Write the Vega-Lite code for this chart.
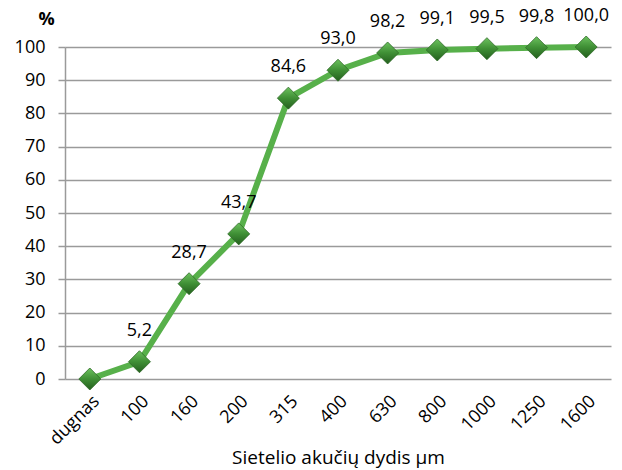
{
  "$schema": "https://vega.github.io/schema/vega-lite/v6.json",
  "width": 546,
  "height": 332,
  "autosize": {"type": "none"},
  "padding": {"left": 65, "top": 47, "right": 11, "bottom": 91},
  "background": "white",
  "config": {"view": {"stroke": null}, "font": "Open Sans"},
  "data": {
    "values": [
      {"size": "dugnas", "value": 0, "label": ""},
      {"size": "100", "value": 5.2, "label": "5,2"},
      {"size": "160", "value": 28.7, "label": "28,7"},
      {"size": "200", "value": 43.7, "label": "43,7"},
      {"size": "315", "value": 84.6, "label": "84,6"},
      {"size": "400", "value": 93.0, "label": "93,0"},
      {"size": "630", "value": 98.2, "label": "98,2"},
      {"size": "800", "value": 99.1, "label": "99,1"},
      {"size": "1000", "value": 99.5, "label": "99,5"},
      {"size": "1250", "value": 99.8, "label": "99,8"},
      {"size": "1600", "value": 100.0, "label": "100,0"}
    ]
  },
  "encoding": {
    "x": {
      "field": "size",
      "type": "ordinal",
      "sort": null,
      "scale": {"type": "point", "padding": 0.5},
      "axis": {
        "title": "Sietelio akučių dydis µm",
        "titleFontSize": 19,
        "titleFontWeight": "normal",
        "titleColor": "#000000",
        "titleY": 78,
        "titleBaseline": "middle",
        "domain": false,
        "ticks": false,
        "grid": false,
        "labelAngle": -45,
        "labelFontSize": 18,
        "labelColor": "#000000",
        "labelPadding": 13
      }
    },
    "y": {
      "field": "value",
      "type": "quantitative",
      "scale": {"domain": [0, 100], "nice": false},
      "axis": {
        "values": [0, 10, 20, 30, 40, 50, 60, 70, 80, 90, 100],
        "grid": true,
        "gridColor": "#9a9a9a",
        "gridWidth": 1.5,
        "domain": true,
        "domainColor": "#9a9a9a",
        "domainWidth": 1.5,
        "tickColor": "#9a9a9a",
        "tickWidth": 1.5,
        "tickSize": 7,
        "labelFontSize": 18,
        "labelColor": "#000000",
        "labelPadding": 13,
        "title": "%",
        "titleAngle": 0,
        "titleFontSize": 18,
        "titleFontWeight": "bold",
        "titleColor": "#000000",
        "titleX": -19,
        "titleY": -28,
        "titleAlign": "center",
        "titleBaseline": "middle"
      }
    }
  },
  "layer": [
    {
      "mark": {"type": "line", "color": "#57b04a", "strokeWidth": 6}
    },
    {
      "mark": {
        "type": "point",
        "shape": "diamond",
        "size": 484,
        "filled": true,
        "opacity": 1,
        "color": {
          "gradient": "linear",
          "x1": 0, "y1": 0, "x2": 0, "y2": 1,
          "stops": [
            {"offset": 0, "color": "#6cc25e"},
            {"offset": 0.5, "color": "#3f8f35"},
            {"offset": 1, "color": "#245f1e"}
          ]
        },
        "stroke": "#2d6a26",
        "strokeWidth": 0.8
      }
    },
    {
      "mark": {
        "type": "text",
        "fontSize": 18,
        "color": "#000000",
        "dy": -31,
        "baseline": "middle",
        "align": "center"
      },
      "encoding": {"text": {"field": "label"}}
    }
  ]
}
